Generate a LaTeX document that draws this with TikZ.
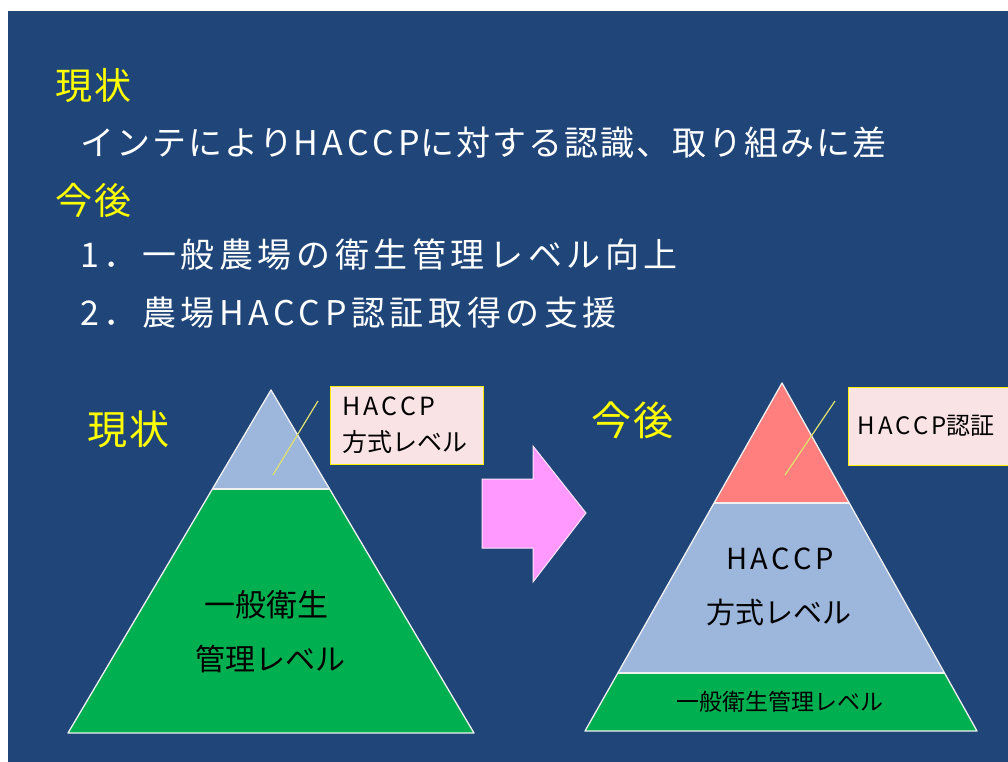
\documentclass[tikz,border=0pt]{standalone}
\usepackage{fontspec}
\setmainfont{Noto Sans CJK JP}
\newfontfamily\spacedfont[LetterSpace=6]{Noto Sans CJK JP}
\newfontfamily\widefont[LetterSpace=13.5]{Noto Sans CJK JP}
\newcommand\lat[1]{{\addfontfeature{LetterSpace=13}#1}}
\definecolor{bgblue}{RGB}{31,69,121}
\definecolor{hdryellow}{RGB}{255,255,0}
\definecolor{lightblue}{RGB}{157,182,219}
\definecolor{pygreen}{RGB}{0,176,80}
\definecolor{pypink}{RGB}{255,127,127}
\definecolor{callpink}{RGB}{250,227,228}
\definecolor{arrowpink}{RGB}{255,153,255}
\definecolor{leadyellow}{RGB}{225,225,110}
\begin{document}
\begin{tikzpicture}[x=1pt,y=-1pt,
  tri/.style={draw=white!88!gray, line width=1.3pt, line join=round},
  hdr/.style={text=hdryellow, font=\spacedfont\fontsize{37}{40}\selectfont, inner sep=0, anchor=west},
  body/.style={text=white, font=\spacedfont\fontsize{34}{40}\selectfont, inner sep=0, anchor=west},
  widebody/.style={text=white, font=\widefont\fontsize{34}{40}\selectfont, inner sep=0, anchor=west},
  lbl/.style={text=black, inner sep=0},
  callout/.style={draw=yellow, fill=callpink, line width=1pt, inner ysep=0, minimum height=78pt},
  lead/.style={draw=leadyellow, line width=1.2pt}]
\useasboundingbox (0,0) rectangle (1008,762);
\fill[white] (0,0) rectangle (1008,762);
\fill[bgblue] (8,11) rectangle (1008,762);

% texts at top
\node[hdr] (h1) at (55,86) {現状};
\node[body] (b1) at (80,143) {インテにより\lat{HACCP}に対する認識、取り組みに差};
\node[hdr] (h2) at (55,200) {今後};
\node[widebody] (b2) at (80,255) {1．一般農場の衛生管理レベル向上};
\node[widebody] (b3) at (80,313) {2．農場HACCP認証取得の支援};

% left pyramid
\fill[lightblue] (271,390) -- (212.5,489) -- (330,489) -- cycle;
\fill[pygreen] (212.5,489) -- (68,733) -- (474,733) -- (330,489) -- cycle;
\draw[tri] (271,390) -- (68,733) -- (474,733) -- cycle;
\draw[tri] (212.5,489) -- (330,489);
\node[hdr, font=\spacedfont\fontsize{40}{44}\selectfont] (h3) at (87,429) {現状};
\node[lbl, font=\fontsize{31}{36}\selectfont] (g1) at (266,605) {一般衛生};
\node[lbl, font=\fontsize{30}{36}\selectfont] (g2) at (270,659) {管理レベル};

% left callout
\node[callout, minimum width=153pt, text width=129pt, inner xsep=12pt, align=left,
  font=\fontsize{25}{36}\selectfont] (c1) at (406.5,425.5) {\lat{HACCP}\\方式レベル};
\coordinate (c1s) at (318,401);
\coordinate (c1e) at (273,475);
\draw[lead] (c1s) -- (c1e);

% arrow
\fill[arrowpink, draw=white!75!arrowpink, line width=1pt, line join=miter]
  (482,479) -- (533,479) -- (533,446) -- (586,513) -- (533,582) -- (533,548) -- (482,548) -- cycle;

% right pyramid
\fill[pypink] (782,383) -- (714,503) -- (849,503) -- cycle;
\fill[lightblue] (714,503) -- (618,673) -- (944,673) -- (849,503) -- cycle;
\fill[pygreen] (618,673) -- (585,731) -- (977,731) -- (944,673) -- cycle;
\draw[tri] (782,383) -- (585,731) -- (977,731) -- cycle;
\draw[tri] (714,503) -- (849,503);
\draw[tri] (618,673) -- (944,673);
\node[hdr, font=\spacedfont\fontsize{40}{44}\selectfont] (h4) at (591,420) {今後};
\node[lbl, font=\fontsize{29}{34}\selectfont] (m1) at (780,559) {\lat{HACCP}};
\node[lbl, font=\fontsize{29}{34}\selectfont] (m2) at (779,612) {方式レベル};
\node[lbl, font=\fontsize{23}{28}\selectfont] (m3) at (780,702) {一般衛生管理レベル};

% right callout
\node[callout, anchor=west, minimum width=180pt, inner xsep=9pt, align=left,
  font=\fontsize{24}{30}\selectfont] (c2) at (848,426) {\lat{HACCP}認証\hspace{40pt}};
\coordinate (c2s) at (835,401);
\coordinate (c2e) at (785,475);
\draw[lead] (c2s) -- (c2e);
\end{tikzpicture}
\end{document}
